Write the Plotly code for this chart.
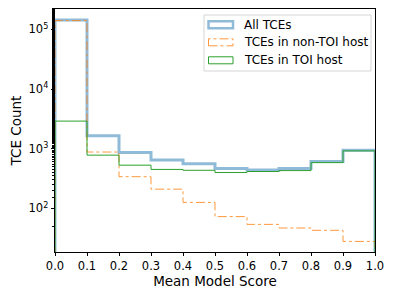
import plotly.graph_objects as go

# ---- data ----
bin_edges = [0.0, 0.1, 0.2, 0.3, 0.4, 0.5, 0.6, 0.7, 0.8, 0.9, 1.0]
all_tces = [143000, 1650, 860, 650, 560, 465, 440, 465, 610, 940]
non_toi = [140000, 880, 340, 210, 126, 73, 54, 47, 43, 28]
toi_host = [2900, 780, 530, 450, 435, 400, 415, 430, 585, 920]
series_names = ["All TCEs", "TCEs in non-TOI host", "TCEs in TOI host"]
x_ticks = [0.0, 0.1, 0.2, 0.3, 0.4, 0.5, 0.6, 0.7, 0.8, 0.9, 1.0]
y_ticks = [1e2, 1e3, 1e4, 1e5]
y_tick_text = ["10<sup>2</sup>", "10<sup>3</sup>", "10<sup>4</sup>", "10<sup>5</sup>"]

# the browser page has an 8px body margin, so the figure is drawn 8px smaller
OFF = 8
W, H = 396 - OFF, 297 - OFF
ML, MR, MT, MB = 55 - OFF, 21, 9 - OFF, 45
baseline = 1.0  # step goes down to the (off-screen) zero baseline


def step_xy(vals):
    xs = [bin_edges[0]] + bin_edges[:-1] + [bin_edges[-1], bin_edges[-1]]
    ys = [baseline] + list(vals) + [vals[-1], baseline]
    return xs, ys


styles = [
    dict(color="rgba(31,119,180,0.5)", width=3, dash="solid"),
    dict(color="rgba(255,127,14,0.8)", width=1, dash="dashdot"),
    dict(color="#2ca02c", width=1, dash="solid"),
]

fig = go.Figure()
for name, vals, st in zip(series_names, [all_tces, non_toi, toi_host], styles):
    xs, ys = step_xy(vals)
    fig.add_trace(go.Scatter(x=xs, y=ys, mode="lines", name=name,
                             line=dict(shape="hv", **st), showlegend=False,
                             cliponaxis=True))

font = "DejaVu Sans"
fig.update_layout(
    width=W, height=H,
    margin=dict(l=ML, r=MR, t=MT, b=MB, autoexpand=False),
    paper_bgcolor="white", plot_bgcolor="white",
    font=dict(family=font, size=11.5, color="black"),
    xaxis=dict(range=[0, 1], tickvals=x_ticks,
               ticktext=[f"{v:.1f}" for v in x_ticks],
               ticks="outside", ticklen=3.5, tickwidth=0.8, tickcolor="black",
               showline=True, linecolor="black", linewidth=0.8, mirror=True,
               showgrid=False, zeroline=False, automargin=False,
               title=dict(text="Mean Model Score", font=dict(size=13.5), standoff=3)),
    yaxis=dict(type="log", range=[1.27, 5.34], tickvals=y_ticks, ticktext=y_tick_text,
               ticks="outside", ticklen=3.5, tickwidth=0.8, tickcolor="black",
               showline=True, linecolor="black", linewidth=0.8, mirror=True,
               showgrid=False, zeroline=False, automargin=False,
               minor=dict(ticks="outside", ticklen=2, tickwidth=0.6, tickcolor="black",
                          showgrid=False),
               title=dict(text="TCE Count", font=dict(size=13.5), standoff=3)),
)

# ---- manual legend (matplotlib-style patches), positions in page pixels ----
pw, ph = W - ML - MR, H - MT - MB


def px(x):
    return (x - OFF - ML) / pw


def py(y):
    return (H - MB - (y - OFF)) / ph


fig.add_shape(type="rect", xref="paper", yref="paper",
              x0=px(204), x1=px(371), y0=py(71), y1=py(15),
              line=dict(color="#d5d5d5", width=1), fillcolor="rgba(255,255,255,0.8)")
rows = [24.7, 42.3, 60.3]
for name, st, ry in zip(series_names, styles, rows):
    fig.add_shape(type="rect", xref="paper", yref="paper",
                  x0=px(208.5), x1=px(233), y0=py(ry + 3.5), y1=py(ry - 3.5),
                  line=dict(color=st["color"], width=min(st["width"], 2.5),
                            dash=st["dash"]),
                  fillcolor="rgba(0,0,0,0)")
    fig.add_annotation(xref="paper", yref="paper", x=px(242), y=py(ry),
                       text=name, showarrow=False, xanchor="left", yanchor="middle",
                       font=dict(family=font, size=12, color="black"))

fig.write_html("out.html")
